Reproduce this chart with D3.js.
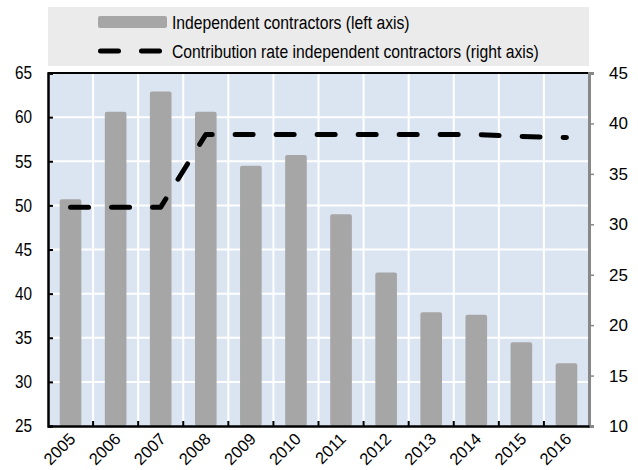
<!DOCTYPE html>
<html>
<head>
<meta charset="utf-8">
<script src="https://cdn.jsdelivr.net/npm/d3@7"></script>
<style>
  body { margin: 0; background: #fff; }
  svg text { font-family: "Liberation Sans", Arial, sans-serif; fill: #000; }
</style>
</head>
<body>
<div id="chart"></div>
<script>
// data
var years = ["2005", "2006", "2007", "2008", "2009", "2010", "2011", "2012", "2013", "2014", "2015", "2016"];
var contractors = [50.7, 60.6, 62.9, 60.6, 54.5, 55.7, 49.0, 42.4, 37.9, 37.6, 34.5, 32.1];
var contribRate = [31.7, 31.7, 31.7, 38.9, 38.9, 38.9, 38.9, 38.9, 38.9, 38.9, 38.7, 38.6];
var leftTicks = [25, 30, 35, 40, 45, 50, 55, 60, 65];
var rightTicks = [10, 15, 20, 25, 30, 35, 40, 45];
var legendLabels = ["Independent contractors (left axis)", "Contribution rate independent contractors (right axis)"];

var svgWidth = 638, svgHeight = 470;
var plot = { left: 48, right: 589, top: 73, bottom: 426 };
var narrow = 0.85; // the original font is a condensed one

var svg = d3.select("#chart").append("svg")
  .attr("width", svgWidth)
  .attr("height", svgHeight);

// scales
var x = d3.scaleBand().domain(years).range([plot.left, plot.right]).padding(0);
var yLeft = d3.scaleLinear().domain([25, 65]).range([plot.bottom, plot.top]);
var yRight = d3.scaleLinear().domain([10, 45]).range([plot.bottom, plot.top]);

// legend box
var legend = svg.append("g");
legend.append("rect")
  .attr("x", 48).attr("y", 7)
  .attr("width", 541).attr("height", 59)
  .attr("fill", "#ebebeb");
legend.append("rect")
  .attr("x", 98).attr("y", 16)
  .attr("width", 69).attr("height", 12)
  .attr("rx", 2)
  .attr("fill", "#a6a6a6");
legend.append("line")
  .attr("x1", 100.5).attr("x2", 160)
  .attr("y1", 51).attr("y2", 51)
  .attr("stroke", "#000")
  .attr("stroke-width", 5)
  .attr("stroke-linecap", "round")
  .attr("stroke-dasharray", "18,23");
legend.selectAll("text.leg")
  .data(legendLabels)
  .enter().append("text")
  .attr("class", "leg")
  .attr("transform", (d, i) => `translate(172,${29 + i * 29}) scale(${narrow},1)`)
  .attr("font-size", "18.5px")
  .text(d => d);

// plot background
svg.append("rect")
  .attr("x", plot.left).attr("y", plot.top)
  .attr("width", plot.right - plot.left)
  .attr("height", plot.bottom - plot.top)
  .attr("fill", "#dbe5f1");

// gridlines
var grid = svg.append("g").attr("stroke", "#fff").attr("stroke-width", 2);
grid.selectAll("line.h")
  .data(leftTicks.slice(1, -1))
  .enter().append("line")
  .attr("x1", plot.left).attr("x2", plot.right)
  .attr("y1", d => yLeft(d)).attr("y2", d => yLeft(d));
grid.selectAll("line.v")
  .data(years.slice(1))
  .enter().append("line")
  .attr("x1", d => x(d)).attr("x2", d => x(d))
  .attr("y1", plot.top).attr("y2", plot.bottom);

// bars
var barW = x.bandwidth() * 0.48;
svg.append("g").selectAll("rect")
  .data(years)
  .enter().append("rect")
  .attr("x", d => x(d) + (x.bandwidth() - barW) / 2)
  .attr("y", (d, i) => yLeft(contractors[i]))
  .attr("width", barW)
  .attr("height", (d, i) => plot.bottom - yLeft(contractors[i]))
  .attr("rx", 2)
  .attr("fill", "#a6a6a6");

// dashed line (right axis)
var line = d3.line()
  .x((d, i) => x(years[i]) + x.bandwidth() / 2)
  .y(d => yRight(d));
svg.append("path")
  .datum(contribRate)
  .attr("d", line)
  .attr("fill", "none")
  .attr("stroke", "#000")
  .attr("stroke-width", 5)
  .attr("stroke-linecap", "round")
  .attr("stroke-linejoin", "round")
  .attr("stroke-dasharray", "18,23");

// top border
svg.append("line")
  .attr("x1", plot.left).attr("x2", plot.right)
  .attr("y1", plot.top).attr("y2", plot.top)
  .attr("stroke", "#000").attr("stroke-width", 2);

// left axis
var leftAxis = svg.append("g")
  .attr("transform", `translate(${plot.left},0)`)
  .call(d3.axisLeft(yLeft).tickValues(leftTicks).tickSize(-5).tickPadding(0));
leftAxis.select(".domain").attr("stroke", "#000").attr("stroke-width", 2.5);
leftAxis.selectAll(".tick line").attr("stroke", "#000").attr("stroke-width", 2);
leftAxis.selectAll("text")
  .attr("x", null)
  .attr("font-size", "18px")
  .attr("transform", `translate(-16,0) scale(${narrow},1)`);

// right axis
var rightAxis = svg.append("g")
  .attr("transform", `translate(${plot.right},0)`)
  .call(d3.axisRight(yRight).tickValues(rightTicks).tickSize(5).tickPadding(15));
rightAxis.select(".domain").attr("stroke", "#888").attr("stroke-width", 3);
rightAxis.selectAll(".tick line").attr("stroke", "#888").attr("stroke-width", 1.5);
rightAxis.selectAll("text").attr("font-size", "17px");

// bottom axis
var xAxis = svg.append("g")
  .attr("transform", `translate(0,${plot.bottom})`)
  .call(d3.axisBottom(x).tickSize(0).tickPadding(0));
xAxis.select(".domain").attr("stroke", "#000").attr("stroke-width", 2.5);
xAxis.selectAll(".tick").filter((d, i) => i > 0)
  .append("line")
  .attr("x1", -x.bandwidth() / 2).attr("x2", -x.bandwidth() / 2)
  .attr("y1", 0).attr("y2", -5)
  .attr("stroke", "#000").attr("stroke-width", 2);
xAxis.selectAll("text")
  .attr("font-size", "16.5px")
  .attr("text-anchor", "end")
  .attr("y", 0)
  .attr("dy", 0)
  .attr("transform", "translate(6,14) rotate(-45)");
</script>
</body>
</html>
